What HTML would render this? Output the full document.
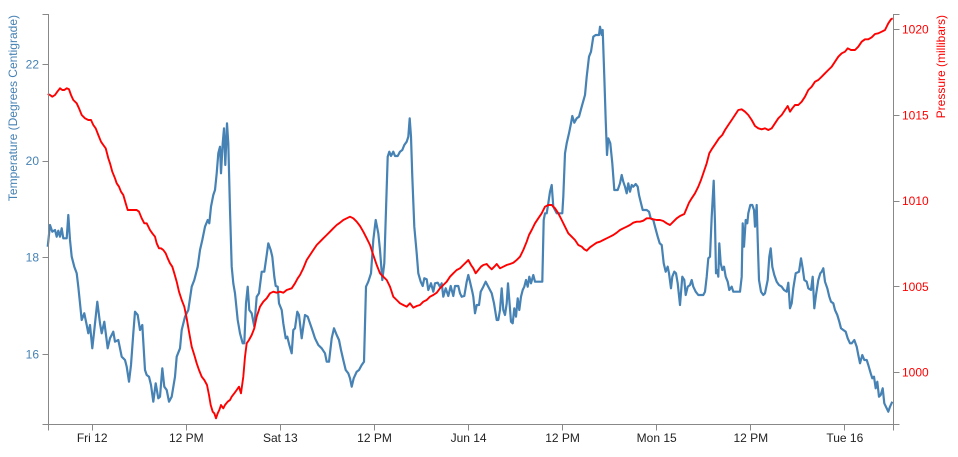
<!DOCTYPE html>
<html>
<head>
<meta charset="utf-8">
<style>
html,body{margin:0;padding:0;background:#fff;}
svg{display:block;font-family:"Liberation Sans",Arial,sans-serif;font-size:12px;}
.ax{stroke:#888;stroke-width:1;fill:none;shape-rendering:crispEdges;}
</style>
</head>
<body>
<svg width="958" height="457" viewBox="0 0 958 457" xmlns="http://www.w3.org/2000/svg">
<rect width="958" height="457" fill="#fff"/>

<!-- Temperature line -->
<polyline fill="none" stroke="steelblue" stroke-width="2.2" stroke-linejoin="round" points="47.7,246.7 50,225 52.3,231.7 55,230 56.7,236.7 58.3,230.7 60,236.7 61.7,228.3 63.3,238.3 66.7,238.3 68.3,215 70,240 71.7,256.7 74.3,266.7 76.7,273.3 78.3,286.7 80,303.3 81.7,320 84.3,313.3 86.7,325 88.3,333.3 90,325 92.3,348.3 94.3,330 97.3,301.7 100,323.3 101.7,333.3 104.3,321.7 107.7,348.3 110,338.3 113.3,331.7 115,341.7 118.3,340 121.7,356.7 125,360 126.7,366.7 129,381.7 131,365 133.3,333.3 135,311.7 137.7,315 140,330 142.3,325 145,370 146.7,375 149,376.7 151,385 153.3,401.7 155.7,383.3 158.3,398.3 160,396.7 162.3,368.3 164.3,386.7 166.7,390 169,401.7 171.7,396.7 175,376.7 176.7,356.7 180,348.3 181.7,330 185,316.7 188.3,310 191.7,286.7 194.3,280 197.7,266.7 200,250 202.3,240 205,226.7 207.7,220 209.3,223.3 211,206.7 213.3,195 215,190 216.7,173.3 218.3,153.3 220,146.7 221,173.3 222.7,143.3 224,128.3 225.3,165 227,123.3 228.3,143.3 230,210 231.7,266.7 233.3,283.3 235,293.3 237.7,320 240,333.3 242.7,343.3 244.3,343.3 246,303.3 247.7,286.7 249.3,310 251.7,313.3 254.3,326.7 256.7,296.7 259,293.3 261.7,271.7 264.3,271.7 266.7,255 268.3,243.3 270.7,250 272.3,256.7 274.3,276.7 275.7,286 277.7,286.7 279,303.3 281.7,310 283.3,323.3 285.7,338.3 287.3,336.7 289.3,345 291.7,353.3 293.3,330 295,328.3 297.3,311.7 299,315 301.7,338.3 303.3,326.7 305,315 307.7,316.7 310,323.3 312.3,330 315,338.3 318.3,345 321.7,348.3 325,353.3 326.7,361.7 329,361.7 331.7,338.3 334,328.3 336.7,335 339,340 341,350 343.3,360 345.7,370 348.3,373.3 350,378.3 351.7,386.7 353.7,378.3 356.7,371.7 359,370 361.7,365 364,361.7 366,286.7 368.3,281.7 371,273.3 373.3,240 375.7,220 378.3,233.3 380,250 382.3,280 384.3,263.3 386,210 387.7,156.7 389.3,151.7 391,156 393.3,151.7 395,156 397.7,156 400,151.7 402.3,150 404.3,145 406.7,141.7 408.3,136.7 409.7,118.3 411,136.7 412.3,176.7 414.3,226.7 416.7,253.3 418.3,273.3 420.7,281.7 422.7,286 424.3,278.3 426.7,279.3 428.3,290 431,283.3 433.3,291.7 435,283.3 437.7,282.7 440,286.7 441.7,283.3 443.3,296.7 445.7,288.3 448.3,296 450.7,286 453.3,296 455,286 458.3,286 460,293.3 461.7,296.7 464.3,296 466.7,281.7 468.3,275 470,281.7 472.3,291.7 473.3,296.7 475,313.3 476.7,305 479,305 480.7,291.7 483.3,286.7 485.7,281.7 488.3,286.7 491.7,293.3 494,303.3 496.7,320 498.3,320 500,310 501.7,288.3 503.3,310 505,315 506.7,303.3 508,283.3 509.3,300 511,321.7 512.7,323.3 514.3,308.3 516,316.7 517.7,298.3 519.3,310 521,296.7 522.7,290 524.3,286.7 526,280 527.7,286.7 529.3,276.7 531,283.3 533.3,275 535,281.7 542.3,281.7 543.7,220 545,213.3 546.7,213.3 548.3,203.3 550,191.7 551.7,185 553.3,206.7 555,210 556.7,213.3 562.3,213.3 563.3,196.7 565,153.3 566.7,143.3 569,133.3 571,123.3 572.3,116 574.3,122.7 576.7,118.3 579,116.7 581.7,106.7 585,95 586.7,76.7 589,56.7 591,51.7 593.3,36.7 595.7,35 599,35 600,26.7 601.7,35 602.7,30 604.3,76.7 605.7,120 607,155 608.3,138.3 610.3,143.3 612.3,163.3 614.3,190 617.7,190 620,183.3 621.7,175 623.3,181.7 625,186.7 626.7,193.3 628.3,183.3 630,191.7 631.7,185 633.3,186.7 635.7,184 637.7,186.7 639,195 641,203.3 642.7,210 646.7,210 649,211.7 650.7,218.3 653.3,220 655,226.7 657.7,236.7 659.7,243.3 661.7,245 663.7,263.3 665.7,271.7 667.7,266.7 669,273.3 671,288.3 672.3,276.7 674.3,271.7 676,273.3 677.7,283.3 680,305 682.3,276.7 684.3,280 685.7,295 687.7,286.7 690,285 691.7,280 693.3,286.7 695.7,291.7 698.3,295 703.3,295 705,291.7 706.7,276.7 708.3,258.3 710,256.7 711.7,216.7 713.7,180.7 715,223.3 716,273.3 717.3,270 718.3,276.7 719.3,243.3 720.7,263.3 722.3,270 724,266.7 725.7,276.7 727.7,281.7 729.3,290 731.7,286.7 733.3,291.7 740,291.7 741.7,276.7 742.7,223.3 744,246.7 745.7,220 747.3,223.3 748.3,213.3 750.3,205 752.3,205 754,210 755,226.7 756.7,205 757.7,240 759,280 761,291.7 763.3,295 765,293.3 767.7,280 769.3,256.7 770.7,248.3 772.3,266.7 774.3,275 776.7,281.7 779,285 781.7,286.7 784,290 786.7,291.7 788.3,282.7 790,308.3 791.7,303.3 793.3,288.3 795.7,273.3 799,271.7 801,258.3 802.7,268.3 804.3,280 806.7,281.7 808.3,288.3 811,290 812.7,276.7 814.3,308.3 816,295 818.3,280 820.3,273.3 821.7,271.7 823.3,268.3 825,281.7 827.3,288.3 829.3,296.7 831,301.7 833.3,303.3 835,310 837.3,315 839.3,321.7 841,328.3 843.3,330 845.7,331.7 847.7,338.3 850,343.3 851.7,343.3 854.3,340 856.7,346.7 858.3,355 860,363.3 862.3,355 864.3,360 866.7,360 868.3,365 870.7,373.3 872.3,378.3 874,376.7 875.7,388.3 877.3,381.7 879,396.7 880.7,395 882.7,388.3 884.3,403.3 886.7,408.3 888.3,411.7 890,406.7 892.3,401.7"/>

<!-- Pressure line -->
<polyline fill="none" stroke="#ff0000" stroke-width="1.9" stroke-linejoin="round" points="47.7,94 50,95 52.3,96.7 55,95 57.3,91.7 60,88.3 62.3,90 64.3,90 66.7,88.3 69,89.3 71,95 73.3,100 76.7,103.3 79,108.3 81.7,115 85,118.3 88.3,120 91,120 93.3,125 95.7,128.3 98.3,135 101,141.7 103.3,145 105.7,148.3 108.3,158.3 110,163.3 112.3,171.7 115,178.3 116.7,183.3 119,186.7 121,191.7 123.3,195 125.7,203.3 127.7,210 130,210 133.3,210 136.7,210 139,211.7 141.7,218.3 144.3,223.3 146.7,223.3 150,230 152.3,233.3 155,236.7 156.7,243.3 159,248.3 161,248.3 163.3,250 165.7,253.3 167.7,258.3 170,263.3 172.3,266.7 174.3,273.3 176.7,281.7 179,291.7 181.7,300 184.3,306.7 186.7,318.3 189,331.7 191.7,346.7 194.3,355 196.7,363.3 199,370 201.7,376.7 204.3,380 207,385 209,395 210.7,405 212.7,411.7 214.3,413.3 216,418.3 217.7,413.3 219.3,410 221,405 223.3,408.3 225,405 227.7,401.7 230,400 231.7,396.7 234.3,393.3 236.7,390 239,386.7 241,393.3 243.3,376.7 245,356.7 246.7,343.3 249,340 251.7,335 254.3,328.3 256.7,316.7 260,306.7 263.3,301.7 266.7,298.3 270,293.3 273.3,291.7 276.7,292.7 280,291.7 283.3,292.7 286.7,290 291.7,288.3 295,283.3 297.7,278.3 300,275 303.3,268.3 306.7,260 310,255 313.3,250 316.7,245 320,241.7 323.3,238.3 326.7,235 330,231.7 333.3,228.3 336.7,225 340,222.7 343.3,220 346.7,218.3 350,216.7 353.3,218.3 356.7,221.7 360,226 363.3,231.7 366.7,238.3 370,245 373.3,255 376.7,265 380,273.3 383.3,276.7 386.7,280 390,286.7 393.3,296.7 396.7,300 400,303.3 403.3,305 406.7,306.7 410,303.3 413.3,307.7 416.7,306 420,305 423.3,301.7 426.7,300 430,296.7 433.3,295 436.7,292.7 440,288.3 443.3,285 446.7,281.7 450,276.7 453.3,273.3 456.7,270 460,268.3 463.3,265 466.7,261.7 468.3,260 471,265 473.3,268.3 475.7,273.3 478.3,270 481,266.7 483.3,265 486.7,264 489,266.7 491.7,269.3 494.3,266.7 496.7,264 500,268.3 503.3,266.7 506.7,265 510,264 513.3,262.7 516.7,260 520,256.7 523.3,250 526.7,241.7 529,235 531.7,230 535,223.3 538.3,218.3 541.7,213.3 545,206.7 548.3,205 551.7,205 555,208.3 558.3,213.3 561.7,220 565,226.7 568.3,233.3 571.7,236.7 575,240 578.3,245 581.7,246.7 584.3,249.3 586.7,250.7 590,247.3 593.3,245 596.7,242.7 600,241.7 603.3,240 606.7,238.3 610,236.7 613.3,235 616.7,232.7 620,230 623.3,228.3 626.7,226.7 630,225 633.3,222.7 636.7,221.7 640,221.7 643.3,220.7 646.7,218.3 650,218.3 653.3,219.3 656.7,220 660,220 663.3,221 666.7,223.3 670,225 673.3,221.7 676.7,218.3 680,216 684.3,214 686.7,208.3 689,202.7 691.7,198.3 695,193.3 698.3,186.7 701,180 703.3,173.3 706.7,163.3 709.3,153.3 712.3,148.3 715.7,143.3 719,138.3 722.3,135 725,130 728.3,125 731.7,120 735,115 738.3,110 741.7,109.3 745,111.7 748.3,115 751.7,120 755,126 758.3,128.3 761.7,129.3 765,128.3 768.3,130 771.7,128.3 775,123.3 778.3,118.3 781.7,115 785,110 787.7,106 790,111.7 792.3,108.3 795,105 798.3,105 801.7,101.7 805,96.7 808.3,90 811.7,86.7 815,81.7 818.3,80 821.7,76.7 825,73.3 828.3,70 831.7,66.7 835,61.7 838.3,56.7 841.7,53.3 845,51.7 847.7,48.3 851,50 855,50 858.3,46.7 861.7,41.7 865,39.3 868.3,39.3 871.7,37.3 875,34 878.3,33.3 881.7,31.7 885,30 888.3,23.3 891,19.3 892.7,18.3"/>

<!-- X axis -->
<path class="ax" d="M48.5,430.5V424.5H893.5V430.5"/>
<g class="ax">
<line x1="92.5" y1="424.5" x2="92.5" y2="430.5"/>
<line x1="186.5" y1="424.5" x2="186.5" y2="430.5"/>
<line x1="280.5" y1="424.5" x2="280.5" y2="430.5"/>
<line x1="374.5" y1="424.5" x2="374.5" y2="430.5"/>
<line x1="468.5" y1="424.5" x2="468.5" y2="430.5"/>
<line x1="562.5" y1="424.5" x2="562.5" y2="430.5"/>
<line x1="656.5" y1="424.5" x2="656.5" y2="430.5"/>
<line x1="750.5" y1="424.5" x2="750.5" y2="430.5"/>
<line x1="844.5" y1="424.5" x2="844.5" y2="430.5"/>
</g>
<g fill="#222" text-anchor="middle">
<text x="92.2" y="442">Fri 12</text>
<text x="186.3" y="442">12 PM</text>
<text x="280.3" y="442">Sat 13</text>
<text x="374.5" y="442">12 PM</text>
<text x="468.6" y="442">Jun 14</text>
<text x="562.6" y="442">12 PM</text>
<text x="656.7" y="442">Mon 15</text>
<text x="750.8" y="442">12 PM</text>
<text x="844.8" y="442">Tue 16</text>
</g>

<!-- Left axis -->
<path class="ax" d="M42.5,14.5H48.5V424.5H42.5"/>
<g class="ax">
<line x1="42.5" y1="64.5" x2="48.5" y2="64.5"/>
<line x1="42.5" y1="161.5" x2="48.5" y2="161.5"/>
<line x1="42.5" y1="257.5" x2="48.5" y2="257.5"/>
<line x1="42.5" y1="354.5" x2="48.5" y2="354.5"/>
</g>
<g fill="steelblue" text-anchor="end">
<text x="39" y="68.5">22</text>
<text x="39" y="165.2">20</text>
<text x="39" y="261.7">18</text>
<text x="39" y="358.4">16</text>
</g>
<text transform="translate(17,15) rotate(-90)" text-anchor="end" fill="steelblue">Temperature (Degrees Centigrade)</text>

<!-- Right axis -->
<path class="ax" d="M899.5,14.5H893.5V424.5H899.5"/>
<g class="ax">
<line x1="893.5" y1="29.5" x2="899.5" y2="29.5"/>
<line x1="893.5" y1="115.5" x2="899.5" y2="115.5"/>
<line x1="893.5" y1="201.5" x2="899.5" y2="201.5"/>
<line x1="893.5" y1="286.5" x2="899.5" y2="286.5"/>
<line x1="893.5" y1="372.5" x2="899.5" y2="372.5"/>
</g>
<g fill="#ff0000" text-anchor="start">
<text x="902" y="33.5">1020</text>
<text x="902" y="119.5">1015</text>
<text x="902" y="205.2">1010</text>
<text x="902" y="290.9">1005</text>
<text x="902" y="376.5">1000</text>
</g>
<text transform="translate(945,15) rotate(-90)" text-anchor="end" fill="#ff0000">Pressure (millibars)</text>
</svg>
</body>
</html>
